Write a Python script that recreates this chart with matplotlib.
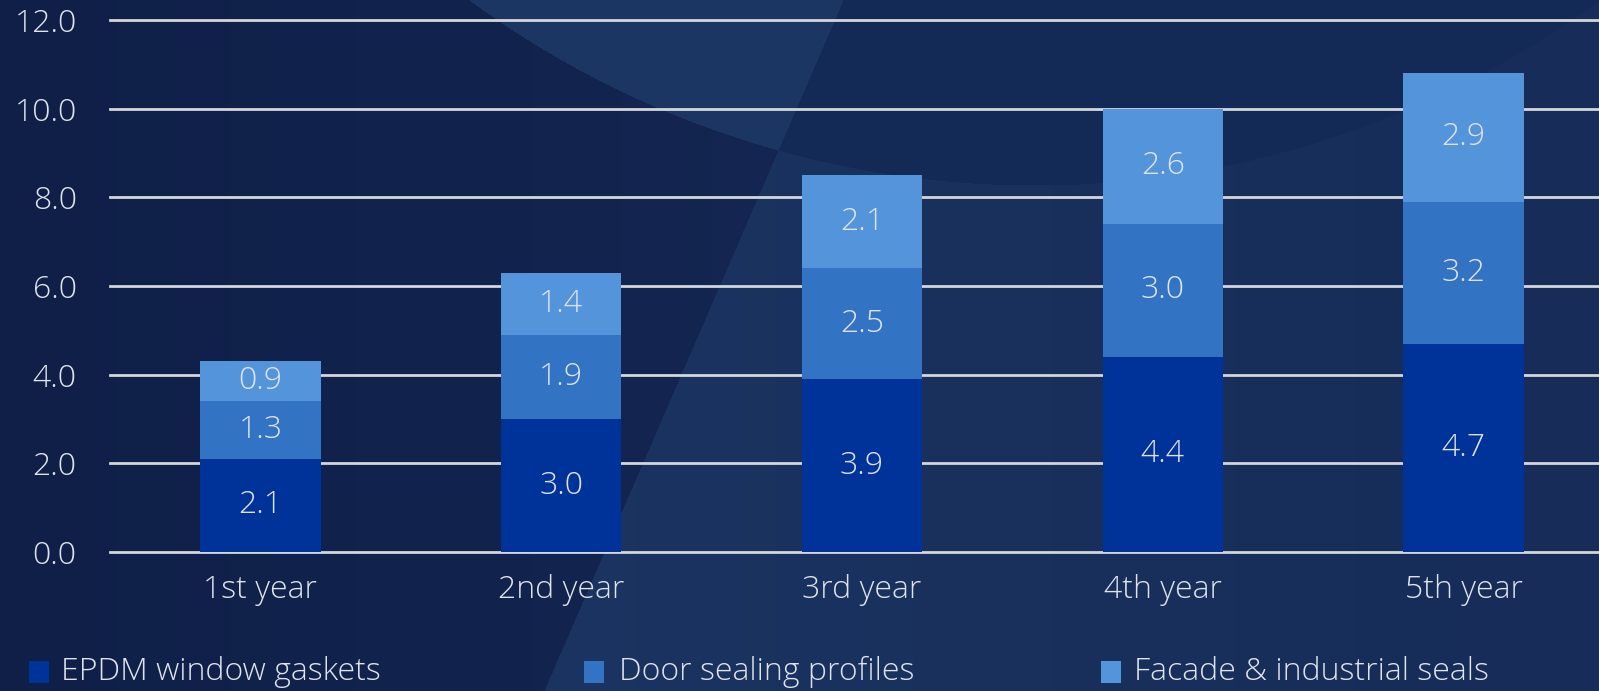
import numpy as np
import matplotlib
matplotlib.use("Agg")
import matplotlib.pyplot as plt
from matplotlib.patches import Rectangle
from matplotlib import font_manager

# ---- data ----
categories = ["1st year", "2nd year", "3rd year", "4th year", "5th year"]
epdm = [2.1, 3.0, 3.9, 4.4, 4.7]
door = [1.3, 1.9, 2.5, 3.0, 3.2]
facade = [0.9, 1.4, 2.1, 2.6, 2.9]
series_names = ["EPDM window gaskets", "Door sealing profiles", "Facade & industrial seals"]
yticks = [0, 2, 4, 6, 8, 10, 12]

colors = ["#003399", "#3273c3", "#5494db"]
text_color = "#dfe3eb"

# pick a light-weight, normal-width font, preferring wide families
def _w(f):
    w = f.weight
    if isinstance(w, str):
        return {"light": 300, "normal": 400, "regular": 400, "book": 400,
                "extra light": 200, "ultralight": 200, "thin": 100}.get(w.lower(), 400)
    return w
fp = None
for fam in ["Open Sans", "Roboto", "Inter", "Lato", "Noto Sans"]:
    cands = [f for f in font_manager.fontManager.ttflist
             if f.name == fam and _w(f) == 300 and f.style == "normal"
             and f.stretch == "normal" and "ondensed" not in f.fname]
    if cands:
        fp = font_manager.FontProperties(fname=cands[0].fname)
        break
if fp is None:
    fp = font_manager.FontProperties(family="DejaVu Sans")
FS = 23
fp.set_size(FS)

W, H = 1599, 691
fig = plt.figure(figsize=(W / 100, H / 100), dpi=100)

# ---- background ----
yy, xx = np.mgrid[0:H, 0:W].astype(float)
def c(h):
    h = h.lstrip("#")
    return np.array([int(h[i:i + 2], 16) for i in (0, 2, 4)], float) / 255.0
t = (xx / W)[..., None]
bg = (1 - t) * c("#0f1f48") + t * c("#182d5a")
inside = (xx - 1034) ** 2 + (yy + 770) ** 2 < 955 ** 2
xline = 843 - 0.433 * yy
left_of = xx < xline
bg[inside & left_of] = c("#1c3664")
bg[inside & ~left_of] = c("#132a56")
low_right = (~inside) & (~left_of)
mix = np.clip((xx - 500) / 1100.0, 0, 1)[..., None]
bg[low_right] = ((1 - mix) * c("#1b3461") + mix * c("#172c58"))[low_right]
bax = fig.add_axes([0, 0, 1, 1], zorder=-10)
bax.imshow(bg, aspect="auto", extent=[0, W, H, 0], interpolation="bilinear")
bax.axis("off")

# ---- main axes ----
ax_left, ax_right = 110, 1614
ax_bottom, ax_top = 552, 20
ax = fig.add_axes([ax_left / W, (H - ax_bottom) / H,
                   (ax_right - ax_left) / W, (ax_bottom - ax_top) / H])
ax.set_facecolor("none")
x = np.arange(len(categories))
bw = 0.4
bottoms = np.zeros(len(categories))
for vals, col in zip([epdm, door, facade], colors):
    ax.bar(x, vals, bw, bottom=bottoms, color=col, zorder=3, linewidth=0)
    for xi, b, v in zip(x, bottoms, vals):
        ax.text(xi, b + v / 2, f"{v:.1f}", ha="center", va="center",
                color=text_color, fontproperties=fp, zorder=4)
    bottoms = bottoms + np.array(vals)

ax.set_xlim(-0.5, len(categories) - 0.5)
ax.set_ylim(0, 12)
ax.set_yticks(yticks)
ax.set_yticklabels([f"{v:.1f}" for v in yticks])
ax.set_xticks(x)
ax.set_xticklabels(categories)
ax.grid(axis="y", color="#d4d6dc", linewidth=2.0, zorder=1)
for gl in ax.get_ygridlines():
    gl.set_clip_on(False)
ax.set_axisbelow(True)
for s in ax.spines.values():
    s.set_visible(False)
ax.tick_params(axis="both", length=0, colors=text_color)
ax.tick_params(axis="y", pad=24)
ax.tick_params(axis="x", pad=16)
for lab in ax.get_xticklabels() + ax.get_yticklabels():
    lab.set_fontproperties(fp)

# ---- legend ----
leg_sq_x = [29, 584, 1101]
leg_tx_x = [61, 619, 1134]
for sx, tx, col, name in zip(leg_sq_x, leg_tx_x, colors, series_names):
    fig.patches.append(Rectangle((sx / W, (H - 683) / H), 20 / W, 22 / H,
                                 transform=fig.transFigure, facecolor=col,
                                 edgecolor="none"))
    fig.text(tx / W, (H - 672) / H, name, ha="left", va="center",
             color=text_color, fontproperties=fp)

fig.savefig("out.png", dpi=100)
